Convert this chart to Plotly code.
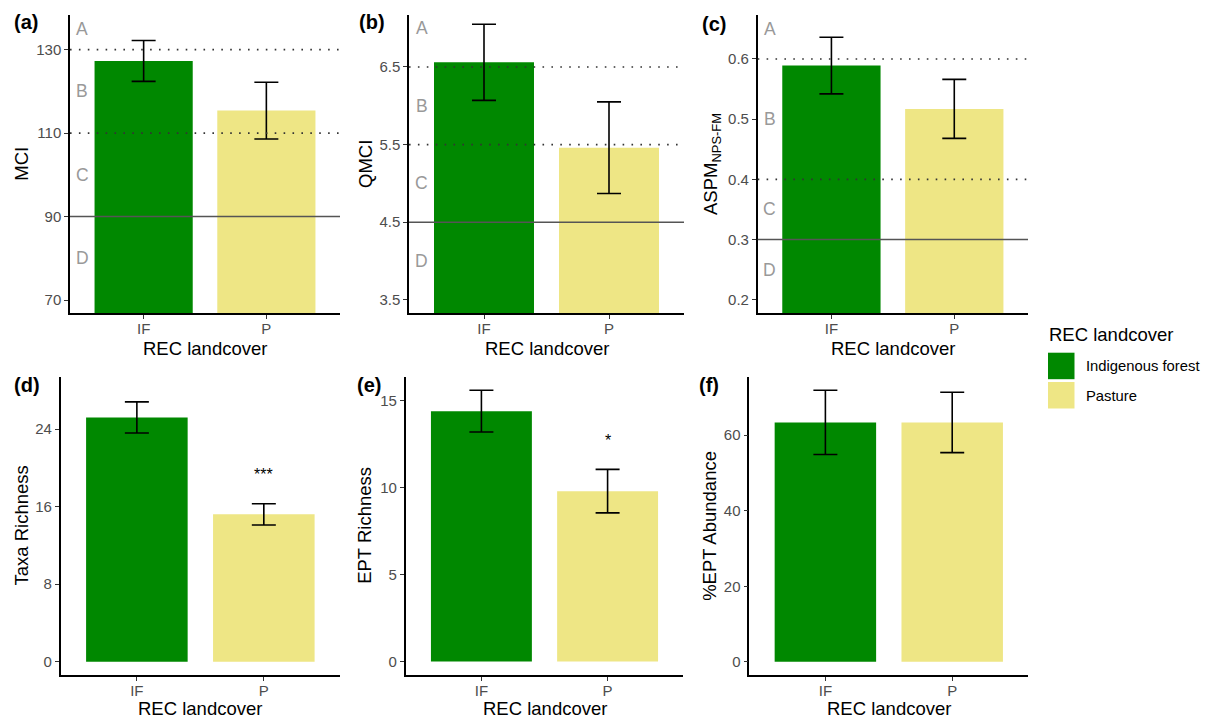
import plotly.graph_objects as go

W, H = 1205, 719

# ---------------- data ----------------
categories = ["IF", "P"]
cat_pos = [1, 2]
landcover_names = ["Indigenous forest", "Pasture"]
bar_colors = ["#008800", "#EEE685"]

mci_mean = [127.3, 115.4]
mci_se = [4.9, 6.8]
qmci_mean = [6.56, 5.46]
qmci_se = [0.49, 0.59]
aspm_mean = [0.589, 0.517]
aspm_se = [0.047, 0.049]
taxa_mean = [25.2, 15.2]
taxa_se = [1.6, 1.1]
ept_mean = [14.4, 9.8]
ept_se = [1.2, 1.25]
pept_mean = [63.4, 63.4]
pept_se = [8.5, 8.0]

mci_ticks = [70, 90, 110, 130]
qmci_ticks = [3.5, 4.5, 5.5, 6.5]
aspm_ticks = [0.2, 0.3, 0.4, 0.5, 0.6]
taxa_ticks = [0, 8, 16, 24]
ept_ticks = [0, 5, 10, 15]
pept_ticks = [0, 20, 40, 60]

band_letters = ["A", "B", "C", "D"]
mci_dotted = [130, 110]
mci_solid = [90]
mci_letter_y = [135, 120, 100, 80]
qmci_dotted = [6.5, 5.5]
qmci_solid = [4.5]
qmci_letter_y = [7.0, 6.0, 5.0, 4.0]
aspm_dotted = [0.6, 0.4]
aspm_solid = [0.3]
aspm_letter_y = [0.65, 0.5, 0.35, 0.25]

taxa_sig = ["", "***"]
taxa_sig_y = [None, 19.3]
ept_sig = ["", "*"]
ept_sig_y = [None, 12.7]

# ---------------- layout helpers ----------------
FONT = "Arial, Liberation Sans, sans-serif"
TITLE_SIZE = 18.5
TICK_SIZE = 15

def px_x(x):
    return x / W

def px_y(y):
    return 1 - y / H

panels = [
    dict(name="(a)", mean=mci_mean, se=mci_se, ticks=mci_ticks, tickfmt=None,
         yr=[66.9, 138.3], x=[70, 340], y=[15, 313], title="MCI", title_x=21.7,
         label_x=12, label_y=22, xtitle_off=35,
         dotted=mci_dotted, solid=mci_solid, letters=mci_letter_y, sig=None),
    dict(name="(b)", mean=qmci_mean, se=qmci_se, ticks=qmci_ticks, tickfmt=".1f",
         yr=[3.33, 7.17], x=[409, 684], y=[15, 313], title="QMCI", title_x=366,
         label_x=357, label_y=22, xtitle_off=35,
         dotted=qmci_dotted, solid=qmci_solid, letters=qmci_letter_y, sig=None),
    dict(name="(c)", mean=aspm_mean, se=aspm_se, ticks=aspm_ticks, tickfmt=".1f",
         yr=[0.178, 0.673], x=[757.7, 1028], y=[15, 313], title="ASPM<sub>NPS-FM</sub>", title_x=712,
         label_x=700, label_y=24, xtitle_off=35,
         dotted=aspm_dotted, solid=aspm_solid, letters=aspm_letter_y, sig=None),
    dict(name="(d)", mean=taxa_mean, se=taxa_se, ticks=taxa_ticks, tickfmt=None,
         yr=[-1.37, 29.4], x=[60.7, 340], y=[376.7, 675], title="Taxa Richness", title_x=21.7,
         label_x=12, label_y=385, xtitle_off=33,
         dotted=[], solid=[], letters=None, sig=(taxa_sig, taxa_sig_y)),
    dict(name="(e)", mean=ept_mean, se=ept_se, ticks=ept_ticks, tickfmt=None,
         yr=[-0.77, 16.38], x=[405.7, 683.3], y=[376.7, 675], title="EPT Richness", title_x=365,
         label_x=355, label_y=385, xtitle_off=33,
         dotted=[], solid=[], letters=None, sig=(ept_sig, ept_sig_y)),
    dict(name="(f)", mean=pept_mean, se=pept_se, ticks=pept_ticks, tickfmt=None,
         yr=[-3.5, 75.5], x=[749.3, 1028.3], y=[376.7, 675], title="%EPT Abundance", title_x=710,
         label_x=697, label_y=385, xtitle_off=33,
         dotted=[], solid=[], letters=None, sig=None),
]

fig = go.Figure()
shapes = []
annotations = []
layout = dict(
    width=W, height=H,
    margin=dict(l=0, r=0, t=0, b=0),
    paper_bgcolor="white", plot_bgcolor="white",
    showlegend=False,
    font=dict(family=FONT, color="#000000"),
)

for i, p in enumerate(panels):
    n = "" if i == 0 else str(i + 1)
    xa, ya = "x" + n, "y" + n
    fig.add_trace(go.Bar(
        x=cat_pos, y=p["mean"], width=0.8,
        marker=dict(color=bar_colors, line=dict(width=0)),
        error_y=dict(type="data", array=p["se"], visible=True,
                     color="#000000", thickness=1.6, width=12),
        xaxis=xa, yaxis=ya, hoverinfo="skip",
    ))
    layout["xaxis" + n] = dict(
        domain=[px_x(p["x"][0]), px_x(p["x"][1])],
        anchor=ya, range=[0.4, 2.6],
        tickvals=cat_pos, ticktext=categories,
        showline=True, linecolor="#000000", linewidth=1.5,
        ticks="outside", ticklen=4, tickcolor="#333333", tickwidth=1,
        ticklabelstandoff=-3,
        tickfont=dict(size=TICK_SIZE, color="#4d4d4d", family=FONT),
        showgrid=False, zeroline=False, fixedrange=True,
    )
    yax = dict(
        domain=[px_y(p["y"][1]), px_y(p["y"][0])],
        anchor=xa, range=p["yr"],
        tickvals=p["ticks"],
        showline=True, linecolor="#000000", linewidth=1.5,
        ticks="outside", ticklen=4, tickcolor="#333333", tickwidth=1,
        tickfont=dict(size=TICK_SIZE, color="#4d4d4d", family=FONT),
        showgrid=False, zeroline=False, fixedrange=True,
    )
    if p["tickfmt"]:
        yax["tickformat"] = p["tickfmt"]
    layout["yaxis" + n] = yax

    # reference lines
    for v in p["dotted"]:
        shapes.append(dict(type="line", xref=xa + " domain", yref=ya,
                           x0=0, x1=1, y0=v, y1=v,
                           line=dict(color="#333333", width=1.6, dash="1.6px,7.3px"),
                           layer="above"))
    for v in p["solid"]:
        shapes.append(dict(type="line", xref=xa + " domain", yref=ya,
                           x0=0, x1=1, y0=v, y1=v,
                           line=dict(color="#555555", width=1.5),
                           layer="above"))
    if p["letters"]:
        for lt, yv in zip(band_letters, p["letters"]):
            annotations.append(dict(text=lt, x=0.5, y=yv, xref=xa, yref=ya,
                                    showarrow=False, xanchor="center", yanchor="middle",
                                    font=dict(size=17.5, color="#999999", family=FONT)))
    if p["sig"]:
        labels, ys = p["sig"]
        for cx, lab, yv in zip(cat_pos, labels, ys):
            if lab:
                annotations.append(dict(text=lab, x=cx, y=yv, xref=xa, yref=ya,
                                        showarrow=False, xanchor="center", yanchor="middle",
                                        font=dict(size=16, color="#000000", family=FONT)))
    # panel label
    annotations.append(dict(text="<b>" + p["name"] + "</b>", x=px_x(p["label_x"]), y=px_y(p["label_y"]),
                            xref="paper", yref="paper", showarrow=False,
                            xanchor="left", yanchor="middle",
                            font=dict(size=20, color="#000000", family=FONT)))
    # y title
    cy = (p["y"][0] + p["y"][1]) / 2
    annotations.append(dict(text=p["title"], x=px_x(p["title_x"]), y=px_y(cy),
                            xref="paper", yref="paper", showarrow=False,
                            textangle=-90, xanchor="center", yanchor="middle",
                            font=dict(size=TITLE_SIZE, color="#000000", family=FONT)))
    # x title
    cx = (p["x"][0] + p["x"][1]) / 2
    annotations.append(dict(text="REC landcover", x=px_x(cx), y=px_y(p["y"][1] + p["xtitle_off"]),
                            xref="paper", yref="paper", showarrow=False,
                            xanchor="center", yanchor="middle", borderpad=0,
                            font=dict(size=TITLE_SIZE, color="#000000", family=FONT)))

# legend (drawn manually to match the large swatches)
annotations.append(dict(text="REC landcover", x=px_x(1047), y=px_y(334),
                        xref="paper", yref="paper", showarrow=False,
                        xanchor="left", yanchor="middle",
                        font=dict(size=TITLE_SIZE, color="#000000", family=FONT)))
key_tops = [352.7, 382]
for name, col, top in zip(landcover_names, bar_colors, key_tops):
    shapes.append(dict(type="rect", xref="paper", yref="paper",
                       x0=px_x(1048), x1=px_x(1074.5), y0=px_y(top + 26.5), y1=px_y(top),
                       fillcolor=col, line=dict(width=0)))
    annotations.append(dict(text=name, x=px_x(1084), y=px_y(top + 13.5),
                            xref="paper", yref="paper", showarrow=False,
                            xanchor="left", yanchor="middle",
                            font=dict(size=14.8, color="#000000", family=FONT)))

layout["shapes"] = shapes
layout["annotations"] = annotations
fig.update_layout(**layout)
fig.write_html("out.html", config={"displayModeBar": False},
               post_script="document.body.style.margin='0';document.body.style.overflow='hidden';")
